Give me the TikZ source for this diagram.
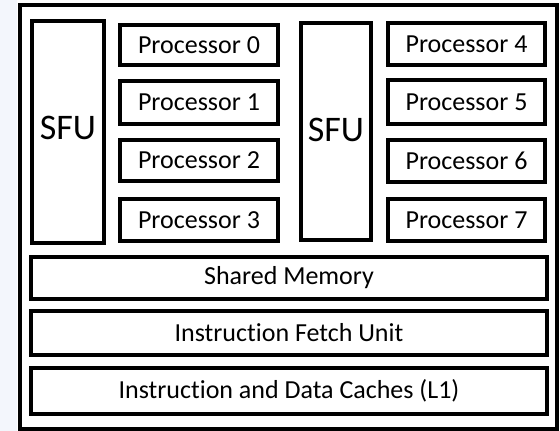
\documentclass[tikz,border=0pt]{standalone}
\usepackage{fontspec}
\setmainfont[Ligatures={NoCommon}]{Carlito}
\definecolor{strip}{HTML}{F3F6FC}
\begin{document}
\begin{tikzpicture}[x=1pt,y=-1pt,
  blk/.style={draw=black,line width=4.2pt,fill=white},
  proc/.style={font=\fontsize{26}{30}\selectfont},
  sfu/.style={font=\fontsize{36}{40}\selectfont},
  wide/.style={font=\fontsize{26}{30}\selectfont}]
\fill[white] (0,0) rectangle (560,431);
\fill[strip] (0,0) rectangle (17,431);
\useasboundingbox (0,0) rectangle (560,431);
\draw[draw=black,line width=3.8pt] (20,5) rectangle (557,429);
% left half
\draw[blk] (32,21) rectangle (104,243) node[midway,sfu,yshift=4pt] (sfu1) {SFU};
\draw[blk] (120,25) rectangle (278,65) node[midway,proc] (p0) {Processor 0};
\draw[blk] (120,81) rectangle (278,124) node[midway,proc] (p1) {Processor 1};
\draw[blk] (120,140) rectangle (278,181) node[midway,proc] (p2) {Processor 2};
\draw[blk] (120,199) rectangle (278,241) node[midway,proc] (p3) {Processor 3};
% right half
\draw[blk] (301,23) rectangle (371,240) node[midway,sfu,yshift=2pt] (sfu2) {SFU};
\draw[blk] (388,23) rectangle (545,65) node[midway,proc] (p4) {Processor 4};
\draw[blk] (388,80) rectangle (545,124) node[midway,proc] (p5) {Processor 5};
\draw[blk] (388,140) rectangle (545,182) node[midway,proc] (p6) {Processor 6};
\draw[blk] (388,199) rectangle (545,241) node[midway,proc] (p7) {Processor 7};
% bottom rows
\draw[blk] (31,257) rectangle (547,299) node[midway,wide] (sm) {Shared Memory};
\draw[blk] (31,311) rectangle (547,355) node[midway,wide] (ifu) {Instruction Fetch Unit};
\draw[blk] (31,368) rectangle (547,414) node[midway,wide] (cache) {Instruction and Data Caches (L1)};
\end{tikzpicture}
\end{document}
